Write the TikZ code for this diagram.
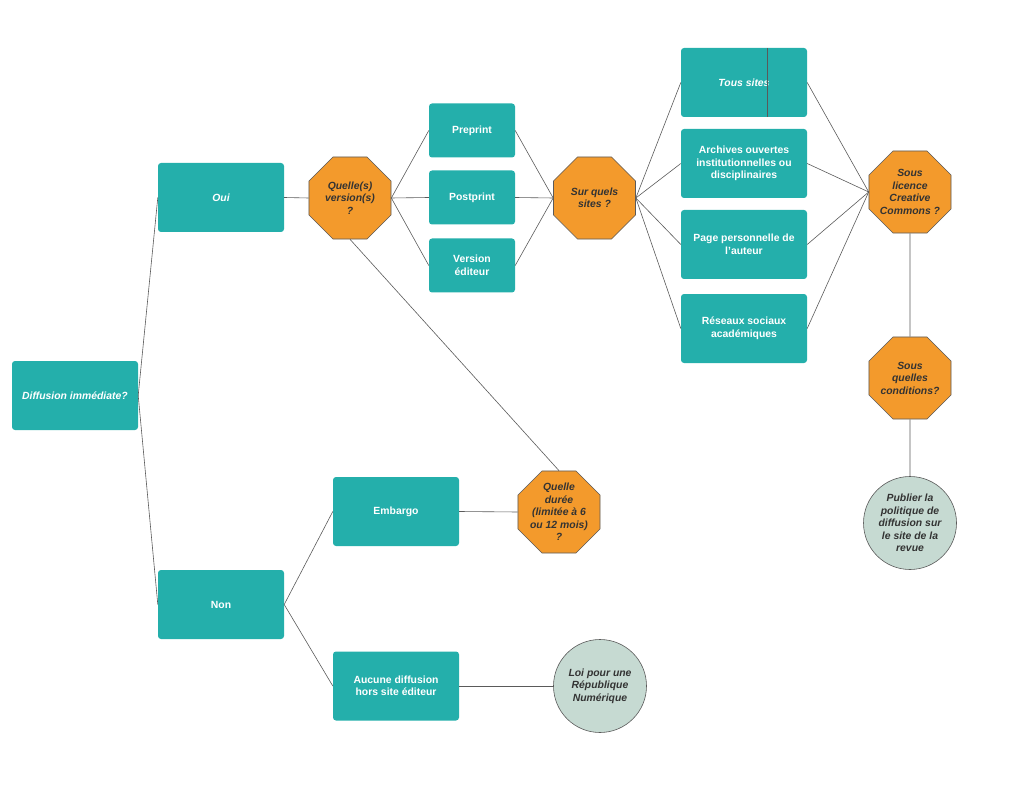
\documentclass[tikz,border=0pt]{standalone}
\usepackage{fontspec}
\setmainfont{Liberation Sans}
\usetikzlibrary{shapes.geometric}
\definecolor{teal1}{HTML}{24AFAB}
\definecolor{orng}{HTML}{F39A2C}
\definecolor{sage}{HTML}{C6DAD2}
\definecolor{edgec}{HTML}{5A5A5A}
\definecolor{txt}{HTML}{333333}
\tikzset{
  box/.style={fill=teal1, rounded corners=3pt, minimum width=126pt, minimum height=69pt, inner sep=2pt,
    text=white, font=\fontsize{10.4}{12.5}\selectfont\bfseries, align=center},
  smallbox/.style={box, minimum width=86pt, minimum height=54pt},
  octo/.style={regular polygon, regular polygon sides=8, minimum size=88.8pt, inner sep=-8pt,
    fill=orng, draw=edgec, line width=0.6pt, text=txt,
    font=\fontsize{10.4}{12.5}\selectfont\bfseries\itshape, align=center},
  circ/.style={circle, minimum size=93pt, inner sep=0pt, fill=sage, draw=edgec, line width=0.6pt,
    text=txt, font=\fontsize{10.4}{12.5}\selectfont\bfseries\itshape, align=center},
  link/.style={draw=edgec, line width=0.6pt}
}
\begin{document}
\begin{tikzpicture}[x=1pt,y=-1pt]
\useasboundingbox (0,0) rectangle (1024,791);
% nodes
\node[box] (diff) at (75,395.5) {\itshape Diffusion immédiate?};
\node[box] (oui) at (221,197.5) {\itshape Oui};
\node[box] (non) at (221,604.5) {Non};
\node[octo] (vers) at (350,198) {Quelle(s)\\version(s)\\?};
\node[smallbox] (pre) at (472,130.5) {Preprint};
\node[smallbox] (post) at (472,197.5) {Postprint};
\node[smallbox] (edit) at (472,265.5) {Version\\éditeur};
\node[octo] (sites) at (594.5,198) {Sur quels\\sites ?};
\node[box] (tous) at (744,82.5) {\itshape Tous sites};
\node[box] (arch) at (744,163.5) {Archives ouvertes\\institutionnelles ou\\disciplinaires};
\node[box] (page) at (744,244.5) {Page personnelle de\\l'auteur};
\node[box] (res) at (744,328.5) {Réseaux sociaux\\académiques};
\node[octo] (lic) at (910,192) {Sous\\licence\\Creative\\Commons ?};
\node[octo] (cond) at (910,378) {Sous\\quelles\\conditions?};
\node[circ] (pub) at (910,523) {Publier la\\politique de\\diffusion sur\\le site de la\\revue};
\node[box] (emb) at (396,511.5) {Embargo};
\node[octo] (duree) at (559,512) {Quelle\\durée\\(limitée à 6\\ou 12 mois)\\?};
\node[box] (auc) at (396,686) {Aucune diffusion\\hors site éditeur};
\node[circ] (loi) at (600,686) {Loi pour une\\République\\Numérique};
% mark inside Tous sites
\draw[draw=edgec, line width=0.9pt] ([xshift=87pt]tous.north west) -- ([xshift=87pt]tous.south west);
% connectors
\draw[link] (diff.east) -- (oui.west);
\draw[link] (diff.east) -- (non.west);
\draw[link] (oui.east) -- (vers.west);
\foreach \n in {pre,post,edit} {
  \draw[link] (vers.east) -- (\n.west);
  \draw[link] (\n.east) -- (sites.west);
}
\foreach \n in {tous,arch,page,res} {
  \draw[link] (sites.east) -- (\n.west);
  \draw[link] (\n.east) -- (lic.west);
}
\draw[link] (lic.south) -- (cond.north);
\draw[link] (cond.south) -- (pub.north);
\draw[link] (vers.south) -- (duree.north);
\draw[link] (non.east) -- (emb.west);
\draw[link] (non.east) -- (auc.west);
\draw[link] (emb.east) -- (duree.west);
\draw[link] (auc.east) -- (loi.west);
\end{tikzpicture}
\end{document}
